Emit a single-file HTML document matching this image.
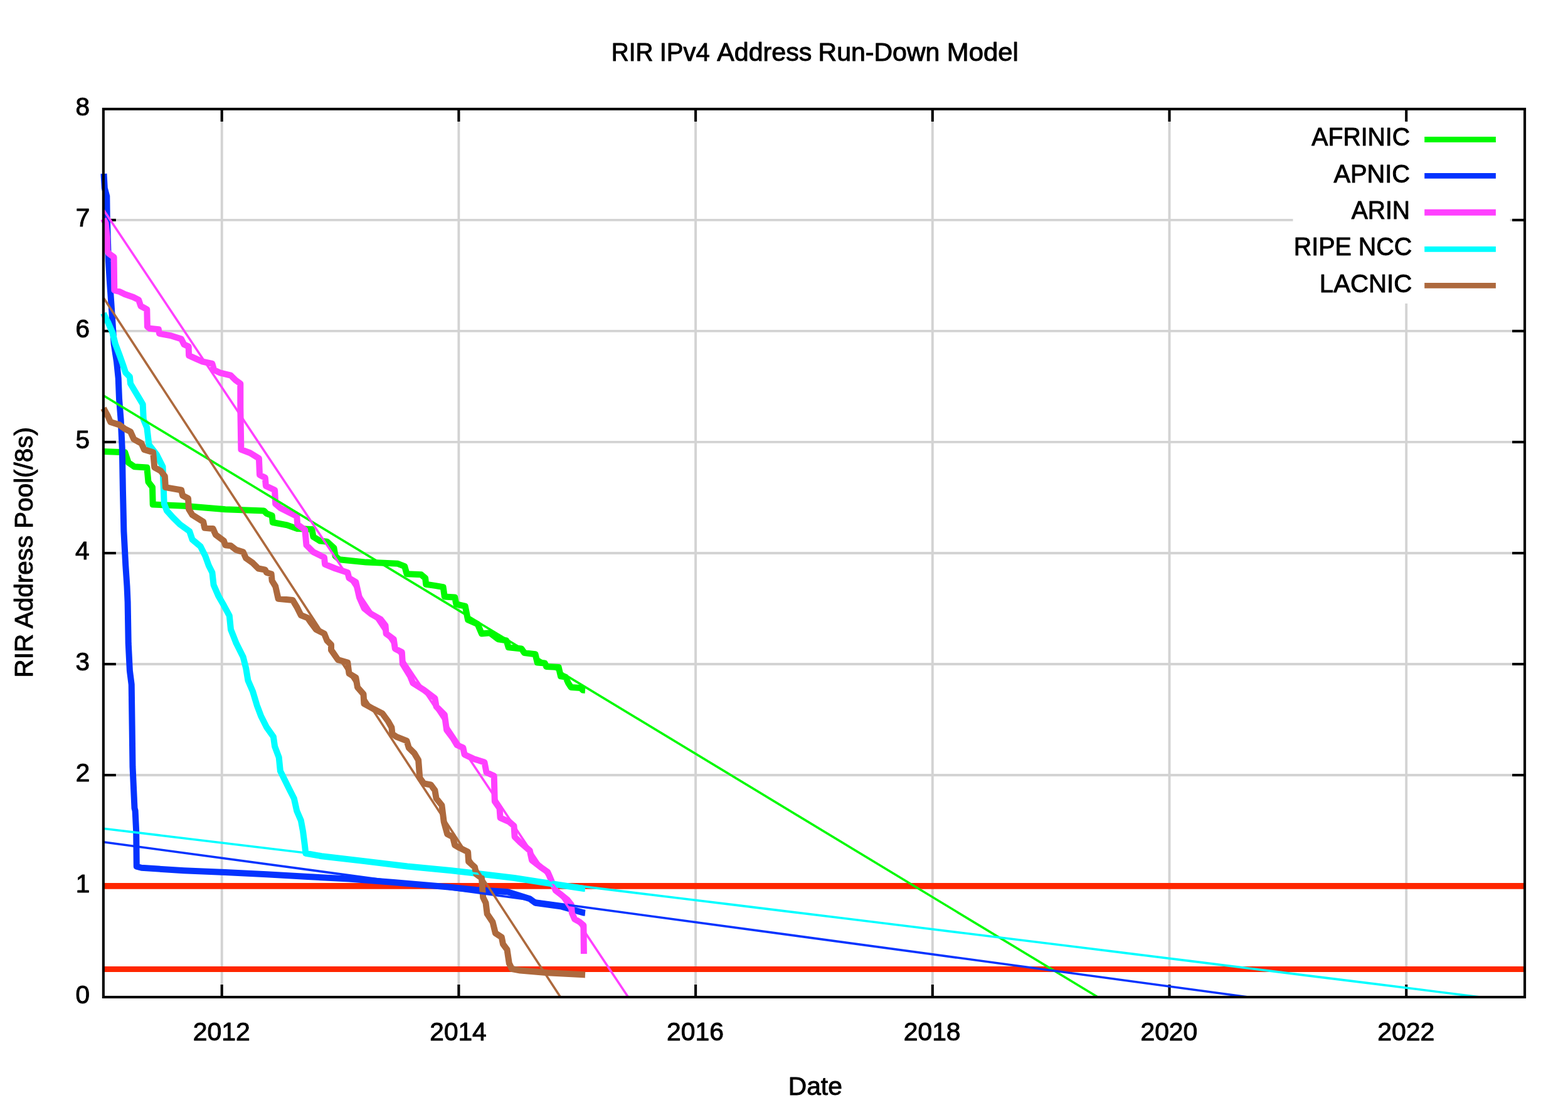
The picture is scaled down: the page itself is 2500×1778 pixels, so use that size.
<!DOCTYPE html>
<html lang="en"><head><meta charset="utf-8"><title>RIR IPv4 Address Run-Down Model</title>
<style>html,body{margin:0;padding:0;background:#fff}body{width:2500px;height:1778px;overflow:hidden}svg{display:block}text{font-family:"Liberation Sans",Arial,Helvetica,sans-serif;font-size:40.5px;fill:#000;stroke:#000;stroke-width:1px;stroke-linejoin:round}</style>
</head><body>
<svg width="2500" height="1778" viewBox="0 0 2500 1778">
<rect width="2500" height="1778" fill="#fff"/>
<defs><clipPath id="pc"><rect x="158.8" y="173.9" width="2272.2" height="1416.1"/></clipPath></defs>
<g stroke="#d3d3d3" stroke-width="3.9" fill="none">
<line x1="353.7" y1="173.9" x2="353.7" y2="1590.0"/>
<line x1="731.4" y1="173.9" x2="731.4" y2="1590.0"/>
<line x1="1109.1" y1="173.9" x2="1109.1" y2="1590.0"/>
<line x1="1486.8" y1="173.9" x2="1486.8" y2="1590.0"/>
<line x1="1864.5" y1="173.9" x2="1864.5" y2="1590.0"/>
<line x1="2242.2" y1="173.9" x2="2242.2" y2="1590.0"/>
<line x1="164.85" y1="1413.0" x2="2431.05" y2="1413.0"/>
<line x1="164.85" y1="1236.0" x2="2431.05" y2="1236.0"/>
<line x1="164.85" y1="1059.0" x2="2431.05" y2="1059.0"/>
<line x1="164.85" y1="882.0" x2="2431.05" y2="882.0"/>
<line x1="164.85" y1="704.9" x2="2431.05" y2="704.9"/>
<line x1="164.85" y1="527.9" x2="2431.05" y2="527.9"/>
<line x1="164.85" y1="350.9" x2="2431.05" y2="350.9"/>
</g>
<rect x="2061.5" y="176" width="346" height="308" fill="#fff"/>
<g stroke="#000" stroke-width="4.1" fill="none">
<line x1="353.7" y1="1590.0" x2="353.7" y2="1570.0"/>
<line x1="353.7" y1="173.9" x2="353.7" y2="193.9"/>
<line x1="731.4" y1="1590.0" x2="731.4" y2="1570.0"/>
<line x1="731.4" y1="173.9" x2="731.4" y2="193.9"/>
<line x1="1109.1" y1="1590.0" x2="1109.1" y2="1570.0"/>
<line x1="1109.1" y1="173.9" x2="1109.1" y2="193.9"/>
<line x1="1486.8" y1="1590.0" x2="1486.8" y2="1570.0"/>
<line x1="1486.8" y1="173.9" x2="1486.8" y2="193.9"/>
<line x1="1864.5" y1="1590.0" x2="1864.5" y2="1570.0"/>
<line x1="1864.5" y1="173.9" x2="1864.5" y2="193.9"/>
<line x1="2242.2" y1="1590.0" x2="2242.2" y2="1570.0"/>
<line x1="2242.2" y1="173.9" x2="2242.2" y2="193.9"/>
<line x1="164.85" y1="1413.0" x2="184.85" y2="1413.0"/>
<line x1="2431.05" y1="1413.0" x2="2411.05" y2="1413.0"/>
<line x1="164.85" y1="1236.0" x2="184.85" y2="1236.0"/>
<line x1="2431.05" y1="1236.0" x2="2411.05" y2="1236.0"/>
<line x1="164.85" y1="1059.0" x2="184.85" y2="1059.0"/>
<line x1="2431.05" y1="1059.0" x2="2411.05" y2="1059.0"/>
<line x1="164.85" y1="882.0" x2="184.85" y2="882.0"/>
<line x1="2431.05" y1="882.0" x2="2411.05" y2="882.0"/>
<line x1="164.85" y1="704.9" x2="184.85" y2="704.9"/>
<line x1="2431.05" y1="704.9" x2="2411.05" y2="704.9"/>
<line x1="164.85" y1="527.9" x2="184.85" y2="527.9"/>
<line x1="2431.05" y1="527.9" x2="2411.05" y2="527.9"/>
<line x1="164.85" y1="350.9" x2="184.85" y2="350.9"/>
<line x1="2431.05" y1="350.9" x2="2411.05" y2="350.9"/>
</g>
<line x1="164.85" y1="1412.95" x2="2431.05" y2="1412.95" stroke="#ff2600" stroke-width="9.8"/>
<line x1="164.85" y1="1545.5" x2="2431.05" y2="1545.5" stroke="#ff2600" stroke-width="8.9"/>
<g fill="none" stroke-width="10.0" stroke-linejoin="round" stroke-linecap="butt" clip-path="url(#pc)">
<polyline stroke="#00f900" points="165.0,720.1 199.2,721.2 204.7,737.7 214.5,744.3 234.3,745.4 236.5,768.4 243.0,777.1 243.7,804.5 293.4,806.7 359.2,812.2 420.6,814.4 425.0,818.8 433.7,822.1 434.8,833.0 457.8,837.4 473.2,842.9 497.3,844.0 499.5,856.0 510.4,862.6 521.4,863.7 532.4,873.6 534.6,886.7 541.1,892.2 583.8,896.6 634.3,898.8 645.2,903.2 648.5,915.2 671.5,916.3 678.1,921.8 679.2,931.7 693.4,933.9 706.6,936.1 708.8,951.4 725.2,952.5 727.4,963.5 741.7,966.7 746.1,988.5 761.4,995.1 768.0,1010.4 781.1,1009.3 794.3,1019.2 807.4,1021.4 810.7,1032.3 831.5,1034.5 835.9,1041.1 853.5,1043.3 856.7,1056.5 868.8,1057.5 871.0,1063.0 890.7,1064.1 894.0,1078.4 901.7,1079.5 906.1,1089.3 910.5,1095.9 925.8,1097.0 929.5,1100.5 933.0,1100.8"/>
<polyline stroke="#0433ff" points="165.5,277.0 166.8,300.0 170.3,313.0 170.7,343.0 172.9,416.7 175.0,449.6 177.3,482.5 179.5,515.4 181.6,548.2 186.0,576.7 188.7,603.0 190.0,636.0 192.6,668.8 194.8,715.8 195.9,781.5 197.4,847.3 200.3,902.1 202.5,935.0 203.6,960.0 204.7,1025.8 206.9,1069.6 209.7,1091.5 210.6,1157.3 211.5,1223.0 213.0,1255.9 214.5,1288.8 215.6,1292.9 217.2,1325.8 217.8,1381.7 225.5,1383.8 293.4,1388.2 359.2,1391.1 425.0,1394.2 490.7,1398.1 556.5,1401.4 627.7,1406.9 715.4,1414.5 759.2,1418.9 809.6,1422.2 844.7,1433.2 853.5,1439.7 895.4,1445.6 931.0,1455.6 933.0,1455.8"/>
<polyline stroke="#ff40ff" points="165.0,349.0 168.5,356.0 170.8,378.0 171.2,399.2 173.2,404.0 181.6,410.1 182.3,462.8 190.4,465.0 199.2,469.3 212.3,473.7 221.1,478.1 224.4,488.0 234.3,493.4 234.9,520.8 238.6,523.7 252.9,525.2 254.0,531.8 271.5,535.1 289.1,540.6 293.4,549.3 300.7,552.6 301.1,566.9 313.2,572.4 321.9,576.3 338.4,580.0 341.2,589.9 350.4,594.3 368.0,598.7 375.6,606.3 383.3,611.8 383.3,650.0 384.4,716.9 398.7,722.3 412.9,731.1 414.0,757.4 422.8,761.8 423.9,774.9 438.1,781.5 439.2,803.4 446.9,810.0 473.2,823.2 474.3,836.3 486.3,845.1 488.5,869.2 499.5,880.2 517.0,888.9 518.1,899.9 534.6,906.5 554.3,913.0 556.5,921.8 567.4,928.4 572.9,952.5 580.6,970.0 591.5,978.8 606.9,987.6 614.5,997.3 615.6,1010.4 627.7,1019.2 629.9,1034.5 640.8,1040.0 641.9,1058.6 654.0,1078.4 658.4,1089.3 675.9,1100.3 693.4,1113.4 695.6,1126.6 708.8,1139.7 712.1,1163.9 721.9,1177.0 728.5,1188.0 738.4,1192.4 740.6,1203.3 754.8,1209.9 772.4,1215.4 775.6,1231.8 787.7,1237.3 788.8,1277.8 796.5,1288.8 797.6,1304.1 811.8,1310.4 819.5,1317.0 820.6,1334.5 829.4,1343.3 844.7,1356.4 848.0,1371.8 862.2,1382.8 873.2,1390.5 877.8,1401.0 882.2,1411.9 886.0,1420.1 895.4,1427.3 904.7,1434.9 910.8,1442.6 911.8,1455.8 916.2,1465.6 923.9,1470.0 930.4,1475.5 930.9,1521.0"/>
<polyline stroke="#00fdff" points="165.0,499.5 168.5,507.0 172.9,515.4 179.5,530.7 183.8,548.2 190.4,565.8 195.9,581.1 200.3,594.3 206.9,600.9 208.0,611.8 214.5,622.8 221.1,633.7 227.7,644.7 228.8,668.8 234.3,682.0 237.5,709.2 249.6,724.5 259.5,744.3 261.7,803.4 266.0,814.4 275.9,825.4 286.9,836.3 302.2,847.3 306.6,860.4 319.7,871.4 327.4,886.7 332.9,902.1 338.4,913.0 340.6,932.8 348.2,950.3 357.0,965.6 365.8,981.9 368.0,1003.8 376.7,1025.8 387.7,1047.7 392.1,1065.2 395.4,1084.9 403.0,1102.5 409.6,1124.4 416.2,1141.9 425.0,1159.5 435.9,1174.8 438.1,1190.2 444.7,1207.7 446.9,1229.6 453.5,1242.8 462.2,1260.3 468.8,1273.2 473.2,1292.9 479.8,1308.2 483.1,1325.8 485.9,1347.7 487.4,1360.8 512.6,1365.2 578.4,1372.9 649.6,1381.5 720.0,1388.3 759.2,1392.8 820.0,1400.0 860.0,1406.3 931.0,1417.0 933.0,1417.2"/>
<polyline stroke="#ad693d" points="165.0,651.0 168.0,656.5 171.8,663.2 176.2,673.0 190.4,677.4 199.2,684.0 208.0,688.4 213.4,700.4 225.5,707.0 229.9,716.9 244.1,721.2 246.3,745.4 256.2,750.8 262.8,759.6 263.9,777.1 289.1,781.5 291.2,790.3 300.0,794.7 301.1,812.2 306.6,821.0 324.1,831.9 326.3,841.8 339.5,842.9 343.9,852.8 357.0,862.6 359.2,869.2 368.0,870.3 376.7,876.9 387.7,880.2 392.1,890.0 403.0,897.7 411.8,906.5 422.8,908.7 425.0,913.0 432.6,915.2 433.7,926.2 439.2,935.0 443.6,954.7 466.6,956.9 473.2,967.8 479.8,981.0 490.7,985.4 495.1,992.0 503.9,1003.8 517.0,1010.4 521.4,1021.4 528.0,1028.0 528.0,1036.7 538.9,1052.1 554.3,1056.5 556.5,1074.0 567.4,1080.6 570.0,1096.0 579.5,1106.9 580.4,1122.2 595.4,1130.5 609.6,1137.6 618.4,1149.6 624.4,1160.0 625.5,1170.4 632.1,1174.8 648.5,1181.4 651.8,1192.4 660.6,1201.1 667.1,1212.1 669.3,1240.6 675.9,1249.4 686.9,1251.5 693.4,1260.3 695.6,1273.2 704.4,1284.1 707.7,1310.4 713.2,1330.1 721.9,1334.5 725.2,1347.7 732.9,1352.1 746.1,1358.6 747.1,1374.0 757.0,1382.8 759.2,1393.7 768.0,1400.3 770.2,1431.0 774.5,1439.7 776.7,1457.3 785.5,1470.4 789.9,1488.0 799.8,1494.5 802.0,1505.5 808.5,1514.3 811.8,1536.2 816.2,1545.0 829.6,1547.5 873.4,1551.3 931.0,1554.3 933.0,1554.4"/>
</g>
<g fill="none" stroke-width="3.6" clip-path="url(#pc)">
<polyline stroke="#00f900" points="165.0,630.8 1749.9,1589.7"/>
<polyline stroke="#0433ff" points="165.0,1342.7 1988.4,1589.7"/>
<polyline stroke="#ff40ff" points="165.0,334.5 1001.4,1589.7"/>
<polyline stroke="#00fdff" points="165.0,1321.2 256.4,1332.2 347.8,1343.2 439.1,1354.2 530.5,1365.2 621.9,1376.3 713.2,1387.3 804.6,1398.4 896.0,1409.5 987.4,1420.6 1078.8,1431.8 1170.1,1442.9 1261.5,1454.1 1352.9,1465.3 1444.2,1476.5 1535.6,1487.8 1627.0,1499.0 1718.4,1510.3 1809.8,1521.6 1901.1,1532.9 1992.5,1544.2 2083.9,1555.6 2175.2,1566.9 2266.6,1578.3 2358.0,1589.7"/>
<polyline stroke="#ad693d" points="165.0,474.8 893.4,1589.7"/>
</g>
<rect x="164.85" y="173.9" width="2266.2" height="1416.1" stroke="#000" stroke-width="4.1" fill="none"/>
<text x="2091.34" y="232.3" textLength="156.68" lengthAdjust="spacingAndGlyphs">AFRINIC</text>
<line x1="2271.2" y1="222.5" x2="2384.9" y2="222.5" stroke="#00f900" stroke-width="9.2"/>
<text x="2126.45" y="290.5" textLength="121.59" lengthAdjust="spacingAndGlyphs">APNIC</text>
<line x1="2271.2" y1="280.4" x2="2384.9" y2="280.4" stroke="#0433ff" stroke-width="8.8"/>
<text x="2154.74" y="349.3" textLength="93.32" lengthAdjust="spacingAndGlyphs">ARIN</text>
<line x1="2271.2" y1="338.8" x2="2384.9" y2="338.8" stroke="#ff40ff" stroke-width="10.0"/>
<text x="2062.84" y="407.3" textLength="188.28" lengthAdjust="spacingAndGlyphs">RIPE NCC</text>
<line x1="2271.2" y1="397.3" x2="2384.9" y2="397.3" stroke="#00fdff" stroke-width="8.8"/>
<text x="2103.79" y="465.6" textLength="147.42" lengthAdjust="spacingAndGlyphs">LACNIC</text>
<line x1="2271.2" y1="455.4" x2="2384.9" y2="455.4" stroke="#ad693d" stroke-width="8.7"/>
<text x="120.50" y="1599.9">0</text>
<text x="120.75" y="1422.9">1</text>
<text x="120.75" y="1245.9">2</text>
<text x="120.50" y="1068.9">3</text>
<text x="120.00" y="891.9">4</text>
<text x="120.50" y="714.8">5</text>
<text x="120.50" y="537.8">6</text>
<text x="120.75" y="360.8">7</text>
<text x="120.50" y="183.8">8</text>
<text x="307.67" y="1658.5" textLength="91.05" lengthAdjust="spacingAndGlyphs">2012</text>
<text x="685.38" y="1658.5" textLength="90.27" lengthAdjust="spacingAndGlyphs">2014</text>
<text x="1063.07" y="1658.5" textLength="90.79" lengthAdjust="spacingAndGlyphs">2016</text>
<text x="1440.77" y="1658.5" textLength="90.79" lengthAdjust="spacingAndGlyphs">2018</text>
<text x="1818.47" y="1658.5" textLength="90.79" lengthAdjust="spacingAndGlyphs">2020</text>
<text x="2196.17" y="1658.5" textLength="91.05" lengthAdjust="spacingAndGlyphs">2022</text>
<text y="96.8"><tspan x="974.70" textLength="66.65" lengthAdjust="spacingAndGlyphs">RIR</tspan> <tspan x="1051.75" textLength="79.94" lengthAdjust="spacingAndGlyphs">IPv4</tspan> <tspan x="1143.36" textLength="150.97" lengthAdjust="spacingAndGlyphs">Address</tspan> <tspan x="1304.52" textLength="193.85" lengthAdjust="spacingAndGlyphs">Run-Down</tspan> <tspan x="1509.87" textLength="113.84" lengthAdjust="spacingAndGlyphs">Model</tspan></text>
<text x="1256.85" y="1745.7" textLength="85.98" lengthAdjust="spacingAndGlyphs">Date</text>
<text transform="translate(52.4,1077.4) rotate(-90)" x="-3.03" y="0" textLength="399.25" lengthAdjust="spacingAndGlyphs">RIR Address Pool(/8s)</text>
</svg></body></html>
